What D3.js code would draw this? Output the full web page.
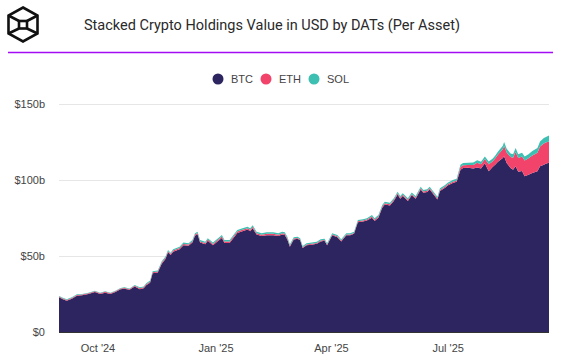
<!DOCTYPE html>
<html><head><meta charset="utf-8">
<script src="https://cdn.jsdelivr.net/npm/d3@7"></script>
<style>
html,body{margin:0;padding:0;background:#fff;}
svg{display:block;}
</style></head>
<body><svg id="c" width="562" height="358"></svg>
<script>
const title = "Stacked Crypto Holdings Value in USD by DATs (Per Asset)";
const seriesNames = ["BTC", "ETH", "SOL"];
const seriesColors = ["#2c2560", "#f2436b", "#3dbfb1"];
const yTicks = [0, 50, 100, 150];
const xTickDates = ["2024-10-01", "2025-01-01", "2025-04-01", "2025-07-01"];

const dates = ["2024-09-01","2024-09-04","2024-09-07","2024-09-11","2024-09-15","2024-09-19","2024-09-24","2024-09-29","2024-10-03","2024-10-07","2024-10-11","2024-10-15","2024-10-19","2024-10-22","2024-10-26","2024-10-30",
"2024-11-03","2024-11-06","2024-11-08","2024-11-11","2024-11-13","2024-11-17","2024-11-20","2024-11-23","2024-11-25","2024-11-27","2024-11-29","2024-12-04","2024-12-07","2024-12-11","2024-12-14","2024-12-16","2024-12-18","2024-12-20","2024-12-24","2024-12-26","2024-12-30",
"2025-01-03","2025-01-06","2025-01-08","2025-01-12","2025-01-15","2025-01-18","2025-01-22","2025-01-26","2025-01-28","2025-01-30","2025-02-02","2025-02-06","2025-02-10","2025-02-15","2025-02-19","2025-02-22","2025-02-24","2025-02-26","2025-02-28",
"2025-03-03","2025-03-06","2025-03-08","2025-03-10","2025-03-13","2025-03-17","2025-03-21","2025-03-24","2025-03-27","2025-03-29","2025-04-02","2025-04-06","2025-04-09","2025-04-13","2025-04-16","2025-04-19","2025-04-22","2025-04-26","2025-04-29",
"2025-05-03","2025-05-05","2025-05-08","2025-05-11","2025-05-13","2025-05-17","2025-05-20","2025-05-23","2025-05-25","2025-05-27","2025-05-31","2025-06-03","2025-06-06","2025-06-10","2025-06-12","2025-06-15","2025-06-17","2025-06-20","2025-06-23","2025-06-25","2025-06-29","2025-07-01","2025-07-05","2025-07-08",
"2025-07-11","2025-07-13","2025-07-17","2025-07-21","2025-07-24","2025-07-27","2025-07-30","2025-08-02","2025-08-05","2025-08-07","2025-08-09","2025-08-13","2025-08-14","2025-08-16","2025-08-19","2025-08-21","2025-08-23","2025-08-25","2025-08-28","2025-08-30","2025-09-02","2025-09-05","2025-09-09","2025-09-11","2025-09-14","2025-09-16","2025-09-18"];

// values in $ billions
const btc = [22.8,21.6,20.6,21.9,23.9,24.1,25.0,26.3,25.0,25.9,25.0,26.3,28.1,28.5,27.8,30.0,
28.2,28.8,30.8,32.4,38.6,39.1,44.7,48.0,52.4,50.6,52.8,54.4,57.1,56.7,58.8,63.3,64.3,58.8,57.7,60.0,57.1,
59.8,61.9,58.6,58.6,61.9,65.2,66.3,67.4,66.3,68.3,64.1,63.1,63.7,63.7,63.1,64.1,63.8,60.9,56.1,
60.9,61.3,60.3,55.2,57.0,57.4,58.0,59.6,60.0,57.0,63.6,62.4,59.6,63.6,63.6,64.6,72.2,72.7,73.3,
75.2,73.0,75.2,81.8,83.9,83.3,86.2,90.5,87.7,89.5,86.2,89.9,87.7,93.8,91.6,92.1,93.8,90.5,87.2,92.7,94.9,96.4,98.1,98.9,
106.8,107.9,108.0,107.5,108.3,107.5,111.1,105.8,108.5,110.0,111.8,114.5,115.6,111.2,107.9,106.8,109.0,105.5,106.0,102.5,103.5,104.6,105.7,109.0,110.0,110.8,111.3];

const eth = [0.5,0.5,0.5,0.5,0.5,0.5,0.5,0.5,0.5,0.5,0.5,0.5,0.5,0.5,0.5,0.5,
0.6,0.6,0.6,0.7,0.7,0.7,0.8,0.8,0.8,0.8,0.8,0.8,0.8,0.8,0.8,0.8,0.8,0.8,0.8,0.8,0.8,
0.9,0.9,0.9,0.9,0.9,0.9,0.9,0.9,0.9,0.9,0.9,0.9,0.9,0.9,0.9,0.9,0.8,0.8,0.7,
0.6,0.6,0.6,0.6,0.6,0.6,0.6,0.6,0.6,0.6,0.6,0.6,0.6,0.6,0.6,0.6,0.7,0.7,0.7,
0.8,0.8,0.8,0.8,0.8,0.8,0.8,0.8,0.8,0.8,0.8,0.8,0.8,0.8,0.8,0.8,0.8,0.8,0.8,0.8,0.8,0.8,0.8,0.8,
1.8,1.8,1.9,2.4,3.1,2.9,2.7,4.6,3.7,4.1,4.7,5.8,6.9,6.9,7.2,7.8,9.5,9.0,9.4,10.4,10.8,11.6,12.2,13.0,14.0,14.0,14.1];

const sol = [0.4,0.4,0.4,0.4,0.4,0.4,0.4,0.4,0.4,0.4,0.4,0.4,0.4,0.4,0.4,0.4,
0.6,0.6,0.6,0.7,0.7,0.7,0.8,0.8,0.8,0.8,0.8,0.9,0.9,0.9,0.9,0.9,0.9,0.9,0.9,0.9,0.9,
1.0,1.0,1.0,1.0,1.0,1.0,1.0,1.0,1.0,1.0,1.0,1.0,1.0,1.0,1.0,1.0,1.0,1.0,0.9,
0.8,0.8,0.8,0.8,0.8,0.8,0.8,0.8,0.8,0.8,0.8,0.8,0.8,0.8,0.8,0.8,0.8,0.8,0.8,
1.0,1.0,1.0,1.0,1.0,1.0,1.0,1.0,1.0,1.0,1.0,1.0,1.0,1.0,1.0,1.0,1.0,1.0,1.0,1.0,1.0,1.0,1.1,1.2,
1.4,1.5,1.5,1.6,1.6,1.6,1.7,1.8,1.8,1.9,2.0,2.2,2.5,2.4,2.4,2.4,2.5,2.5,2.6,2.6,2.7,2.8,3.1,3.4,3.6,3.7,3.8];

const parse = d3.timeParse("%Y-%m-%d");
const rows = dates.map((d, i) => ({date: parse(d), BTC: btc[i], ETH: eth[i], SOL: sol[i]}));

const svg = d3.select("#c");
const font = "'Liberation Sans', Arial, sans-serif";

// logo
const logo = svg.append("g").attr("fill", "none").attr("stroke", "#111").attr("stroke-width", 2.6).attr("stroke-linejoin", "miter");
logo.append("path").attr("d", "M23,7.5 L37.5,15.5 L37.5,33.5 L23,41.5 L8.5,33.5 L8.5,15.5 Z");
logo.append("rect").attr("x", 19).attr("y", 21).attr("width", 8).attr("height", 7.5);
logo.append("path").attr("d", "M8.5,15.5 L19,21 M37.5,15.5 L27,21 M8.5,33.5 L19,28.5 M37.5,33.5 L27,28.5");

svg.append("text").attr("x", 272).attr("y", 30).attr("text-anchor", "middle")
  .attr("font-family", "Roboto, 'Noto Sans', sans-serif").attr("font-size", 15).attr("fill", "#2a2a2a")
  .attr("textLength", 376).attr("lengthAdjust", "spacingAndGlyphs")
  .text(title);
svg.append("line").attr("x1", 8).attr("x2", 553).attr("y1", 52.5).attr("y2", 52.5)
  .attr("stroke", "#a40cf5").attr("stroke-width", 1.5);

// legend
const legX = [218, 266, 314];
const leg = svg.append("g");
seriesNames.forEach((n, i) => {
  leg.append("circle").attr("cx", legX[i]).attr("cy", 79).attr("r", 5.5).attr("fill", seriesColors[i]);
  leg.append("text").attr("x", legX[i] + 13).attr("y", 83).attr("font-family", font).attr("font-size", 11)
    .attr("fill", "#444").text(n);
});

const x = d3.scaleTime().domain([parse("2024-09-01"), parse("2025-09-18")]).range([59, 549]);
const y = d3.scaleLinear().domain([0, 150]).range([332, 104]);

// grid
svg.append("g").selectAll("line").data(yTicks.filter(t => t > 0)).join("line")
  .attr("x1", 59).attr("x2", 549).attr("y1", d => Math.round(y(d)) + 0.5).attr("y2", d => Math.round(y(d)) + 0.5)
  .attr("stroke", "#e6e6e6").attr("stroke-width", 1);

const stack = d3.stack().keys(seriesNames);
const layers = stack(rows);
const area = d3.area().x(d => x(d.data.date)).y0(d => y(d[0])).y1(d => y(d[1])).curve(d3.curveLinear);
svg.append("g").selectAll("path").data(layers).join("path")
  .attr("d", area).attr("fill", (d, i) => seriesColors[i]);

// y axis
const yAxis = d3.axisLeft(y).tickValues(yTicks).tickSize(0).tickPadding(0)
  .tickFormat(d => d === 0 ? "$0" : "$" + d + "b");
const ya = svg.append("g").attr("transform", "translate(45,0)").call(yAxis);
ya.select(".domain").remove();
ya.selectAll("text").attr("font-family", font).attr("font-size", 11).attr("fill", "#444");

// x axis
const xAxis = d3.axisBottom(x).tickValues(xTickDates.map(parse)).tickSize(0).tickPadding(0)
  .tickFormat(d3.timeFormat("%b '%y"));
const xa = svg.append("g").attr("transform", "translate(0,344)").call(xAxis);
xa.select(".domain").remove();
xa.selectAll("text").attr("font-family", font).attr("font-size", 11).attr("fill", "#444");

svg.append("line").attr("x1", 59).attr("x2", 549).attr("y1", 332.5).attr("y2", 332.5)
  .attr("stroke", "#333").attr("stroke-width", 1);
</script></body></html>
